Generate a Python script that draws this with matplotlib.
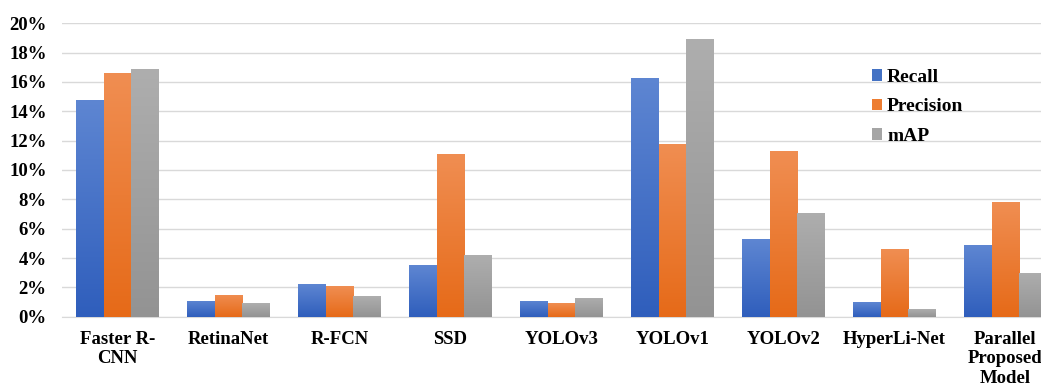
import numpy as np
import matplotlib
matplotlib.use("Agg")
import matplotlib.pyplot as plt
from matplotlib.colors import LinearSegmentedColormap
from matplotlib.patches import Patch
from matplotlib.ticker import FuncFormatter

categories = ["Faster R-\nCNN", "RetinaNet", "R-FCN", "SSD", "YOLOv3",
              "YOLOv1", "YOLOv2", "HyperLi-Net", "Parallel\nProposed\nModel"]
recall = [14.8, 1.1, 2.2, 3.5, 1.1, 16.3, 5.3, 1.0, 4.9]
precision = [16.6, 1.5, 2.1, 11.1, 0.95, 11.8, 11.3, 4.6, 7.8]
mAP = [16.9, 0.9, 1.4, 4.2, 1.3, 18.9, 7.1, 0.5, 3.0]

series = [("Recall", recall, ("#5E86D2", "#2F5EBC"), "#4472C4"),
          ("Precision", precision, ("#F08E52", "#E66A18"), "#ED7D31"),
          ("mAP", mAP, ("#AEAEAE", "#939393"), "#A5A5A5")]

plt.rcParams["font.family"] = ["Liberation Serif", "DejaVu Serif"]
plt.rcParams["font.weight"] = "bold"

fig = plt.figure(figsize=(10.41, 3.86), dpi=100)
# axes spans slightly past the right edge of the figure
ax = fig.add_axes([62 / 1041, 69.3 / 386, 999 / 1041, 293.4 / 386])

x = np.arange(len(categories))
width = 0.25
for i, (name, vals, (top, bottom), solid) in enumerate(series):
    bars = ax.bar(x + (i - 1) * width, vals, width, color=solid,
                  edgecolor="none", zorder=2)
    cmap = LinearSegmentedColormap.from_list(name, [bottom, top])
    grad = np.linspace(0, 1, 256).reshape(-1, 1)
    for b in bars:
        x0, y0 = b.get_x(), b.get_y()
        im = ax.imshow(grad, cmap=cmap, origin="lower", aspect="auto",
                       extent=[x0, x0 + b.get_width(), y0, y0 + b.get_height()],
                       zorder=3)
        im.set_clip_path(b)

ax.set_xlim(-0.5, len(categories) - 0.5)
ax.set_ylim(0, 20)
ax.set_yticks(np.arange(0, 21, 2))
ax.yaxis.set_major_formatter(FuncFormatter(lambda v, p: f"{v:.0f}%"))
ax.grid(axis="y", color="#D9D9D9", linewidth=1.0, zorder=0)
ax.set_axisbelow(True)
for s in ["top", "right", "left"]:
    ax.spines[s].set_visible(False)
ax.spines["bottom"].set_color("#D9D9D9")
ax.tick_params(axis="both", length=0, labelsize=13.5)
ax.tick_params(axis="y", pad=11)
ax.tick_params(axis="x", pad=10)
ax.set_xticks(x)
ax.set_xticklabels(categories, fontweight="bold", linespacing=1.2)
for t in ax.get_yticklabels():
    t.set_fontweight("bold")

handles = [Patch(facecolor=s[3], edgecolor="none") for s in series]
leg = ax.legend(handles, [s[0] for s in series], loc="upper left",
                bbox_to_anchor=(792 / 999, 0.905), frameon=False,
                prop={"weight": "bold", "size": 14}, handlelength=0.55,
                handleheight=0.55, handletextpad=0.25, labelspacing=0.65)

fig.savefig("out.png", dpi=100, facecolor="white")
